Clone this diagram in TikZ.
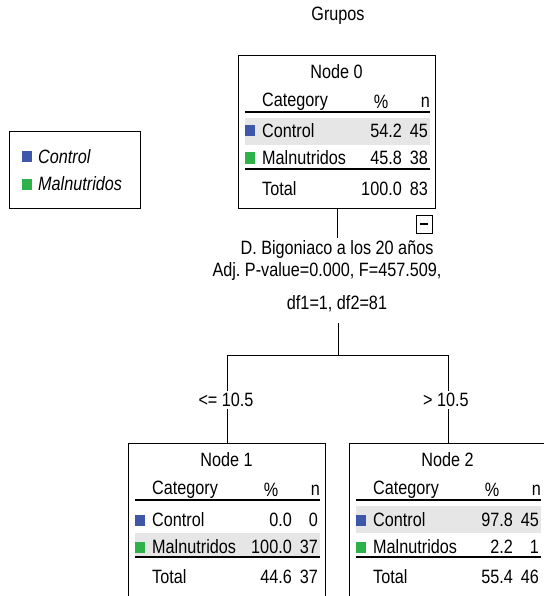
\documentclass[tikz,border=0pt]{standalone}
\usepackage{fontspec}
\setmainfont{Liberation Sans}[FakeStretch=0.84]
\definecolor{ctrlblue}{HTML}{3F57A8}
\definecolor{malgreen}{HTML}{2DB24A}
\definecolor{bandgray}{HTML}{E6E6E6}
\begin{document}
\begin{tikzpicture}[x=1pt,y=-1pt,
  txt/.style={inner sep=0pt,font=\fontsize{19.3}{21}\selectfont},
  txtw/.style={txt,anchor=west},
  txte/.style={txt,anchor=east},
  boxline/.style={draw=black,line width=1pt},
  rule/.style={draw=black,line width=1.2pt},
  conn/.style={draw=black,line width=1pt},
  band/.style={fill=bandgray},
  sqblue/.style={fill=ctrlblue},
  sqgreen/.style={fill=malgreen},
  split/.style={txt,fill=white,inner sep=2pt}]
\useasboundingbox (0,0) rectangle (543,596);
\fill[white] (0,0) rectangle (543,596);

\node[txt] (title) at (338,16) {Grupos};

% legend
\draw[boxline] (9,132) rectangle (140,208);
\fill[sqblue] (22,151) rectangle (32,162);
\node[txtw,font=\fontsize{19.3}{21}\selectfont\itshape] (legc) at (38,157) {Control};
\fill[sqgreen] (22,179) rectangle (32,190);
\node[txtw,font=\fontsize{19.3}{21}\selectfont\itshape] (legm) at (38,184) {Malnutridos};

% ---------- Node 0 ----------
\begin{scope}[shift={(238,56)}]
\fill[band] (7,62) rectangle (192,89);
\draw[boxline] (0,0) rectangle (197,152);
\coordinate (n0b) at (99,152);
\node[txt] (n0t) at (98.5,16) {Node 0};
\node[txtw] (n0cat) at (24,46) {Category};
\node[txt] (n0pc) at (143,46) {\%};
\node[txte] (n0n) at (192,46) {n};
\draw[rule] (7,56) -- (192,56);
\fill[sqblue] (7,69.5) rectangle (17,80.5);
\node[txtw] (n0c) at (24,75) {Control};
\node[txte] (n0cp) at (164,75) {54.2};
\node[txte] (n0cn) at (190,75) {45};
\fill[sqgreen] (7,96.5) rectangle (17,107.5);
\node[txtw] (n0m) at (24,102) {Malnutridos};
\node[txte] (n0mp) at (164,102) {45.8};
\node[txte] (n0mn) at (190,102) {38};
\draw[rule] (7,113) -- (192,113);
\node[txtw] (n0tot) at (24,133) {Total};
\node[txte] (n0tp) at (164,133) {100.0};
\node[txte] (n0tn) at (190,133) {83};
\draw[boxline] (178,159) rectangle (194,177);
\draw[line width=1.2pt] (182,168) -- (190,168);
\end{scope}

% split label
\node[txt] (lab1) at (337,250) {D. Bigoniaco a los 20 años};
\node[txt] (lab2) at (327,272) {Adj.\ P-value=0.000, F=457.509,};
\node[txt] (lab3) at (337,304) {df1=1, df2=81};
\coordinate (lab0t) at (337,238);
\draw[conn] (n0b) -- (lab0t);
\coordinate (sp) at (338,323);
\coordinate (sh) at (338,355);
\coordinate (lh) at (227,355);
\coordinate (rh) at (448,355);
\draw[conn] (sp) -- (sh);
\draw[conn] (lh) -- (rh);

\node[split] (lefts) at (226,400) {<= 10.5};
\node[split] (rights) at (446,400) {> 10.5};

% ---------- Node 1 ----------
\begin{scope}[shift={(128,443)}]
\fill[band] (7,90) rectangle (192,114);
\draw[boxline] (0,160) -- (0,0) -- (197,0) -- (197,160);
\coordinate (n1top) at (99,0);
\node[txt] (n1t) at (98.5,17) {Node 1};
\node[txtw] (n1cat) at (24,47) {Category};
\node[txt] (n1pc) at (143,47) {\%};
\node[txte] (n1n) at (192,47) {n};
\draw[rule] (7,57) -- (192,57);
\fill[sqblue] (7,71.5) rectangle (17,82.5);
\node[txtw] (n1c) at (24,77) {Control};
\node[txte] (n1cp) at (164,77) {0.0};
\node[txte] (n1cn) at (190,77) {0};
\fill[sqgreen] (7,98.5) rectangle (17,109.5);
\node[txtw] (n1m) at (24,104) {Malnutridos};
\node[txte] (n1mp) at (164,104) {100.0};
\node[txte] (n1mn) at (190,104) {37};
\draw[rule] (7,114) -- (192,114);
\node[txtw] (n1tot) at (24,134) {Total};
\node[txte] (n1tp) at (164,134) {44.6};
\node[txte] (n1tn) at (190,134) {37};
\end{scope}

% ---------- Node 2 ----------
\begin{scope}[shift={(349,443)}]
\fill[band] (7,63) rectangle (192,90);
\draw[boxline] (0,160) -- (0,0) -- (197,0) -- (197,160);
\coordinate (n2top) at (99,0);
\node[txt] (n2t) at (98.5,17) {Node 2};
\node[txtw] (n2cat) at (24,47) {Category};
\node[txt] (n2pc) at (143,47) {\%};
\node[txte] (n2n) at (192,47) {n};
\draw[rule] (7,57) -- (192,57);
\fill[sqblue] (7,71.5) rectangle (17,82.5);
\node[txtw] (n2c) at (24,77) {Control};
\node[txte] (n2cp) at (164,77) {97.8};
\node[txte] (n2cn) at (190,77) {45};
\fill[sqgreen] (7,98.5) rectangle (17,109.5);
\node[txtw] (n2m) at (24,104) {Malnutridos};
\node[txte] (n2mp) at (164,104) {2.2};
\node[txte] (n2mn) at (190,104) {1};
\draw[rule] (7,114) -- (192,114);
\node[txtw] (n2tot) at (24,134) {Total};
\node[txte] (n2tp) at (164,134) {55.4};
\node[txte] (n2tn) at (190,134) {46};
\end{scope}

\draw[conn] (lh) -- (lh |- lefts.north);
\draw[conn] (lh |- lefts.south) -- (lh |- n1top);
\draw[conn] (rh) -- (rh |- rights.north);
\draw[conn] (rh |- rights.south) -- (rh |- n2top);
\end{tikzpicture}
\end{document}
